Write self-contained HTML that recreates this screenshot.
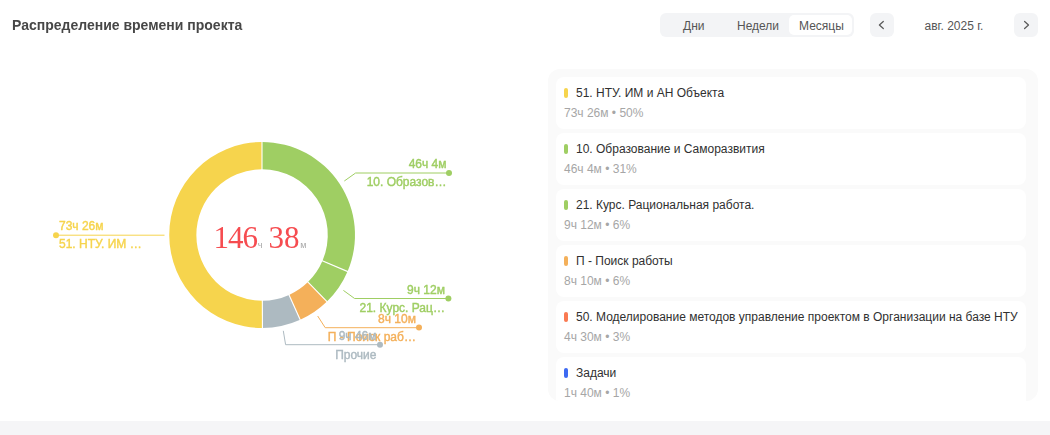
<!DOCTYPE html>
<html lang="ru">
<head>
<meta charset="utf-8">
<title>Распределение времени проекта</title>
<style>
*{box-sizing:border-box;margin:0;padding:0}
html,body{width:1050px;height:435px;overflow:hidden;background:#fff}
body{position:relative;font-family:"Liberation Sans",sans-serif;font-size:12px;color:#333}
.abs{position:absolute}
.title{will-change:transform;left:12px;top:15px;font-size:14px;font-weight:bold;line-height:20px;color:#474747;white-space:nowrap}
.seg{left:660px;top:13px;width:194px;height:24px;background:#f3f4f6;border-radius:6px}
.seg .on{position:absolute;left:129px;top:2px;width:63px;height:20px;background:#fff;border-radius:5px}
.seg span{position:absolute;top:1px;line-height:24px;font-size:12px;color:#555;white-space:nowrap}
.btn{top:13px;width:24px;height:24px;background:#f3f4f6;border-radius:6px}
.btn svg{position:absolute;left:0;top:0}
.date{left:894px;top:14px;width:120px;height:24px;line-height:24px;text-align:center;font-size:12px;color:#555}
.band{left:0;top:421px;width:1050px;height:14px;background:#f5f5f7}
.list{left:548px;top:69px;width:490px;height:332px;background:#fafafa;border-radius:12px;overflow:hidden}
.card{position:absolute;left:8px;width:470px;height:52px;background:#fff;border-radius:8px}
.card i{position:absolute;left:8px;top:11px;width:4px;height:10px;border-radius:2px}
.card b{position:absolute;left:20px;top:8px;font-weight:normal;line-height:16px;font-size:12px;color:#303030;white-space:nowrap}
.card s{position:absolute;left:8px;top:28px;text-decoration:none;line-height:16px;font-size:12px;color:#a6a6a6;white-space:nowrap}
.chart{left:0;top:0;will-change:transform}
.center{will-change:transform;left:159.5px;top:218px;width:200px;height:40px;text-align:center;white-space:nowrap;font-family:"Liberation Serif",serif;font-size:31px;line-height:40px;color:#f64c50}
.center u{letter-spacing:0;text-decoration:none;font-family:"Liberation Sans",sans-serif;font-size:9px;color:#a8a8a8}
</style>
</head>
<body>
<div class="abs title">Распределение времени проекта</div>

<div class="abs seg">
  <div class="on"></div>
  <span style="left:23px">Дни</span>
  <span style="left:77px">Недели</span>
  <span style="left:139px">Месяцы</span>
</div>
<div class="abs btn" style="left:870px"><svg width="24" height="24" viewBox="0 0 24 24"><path d="M13.3 8.5 L9.4 12 L13.3 15.5" fill="none" stroke="#5a5a5a" stroke-width="1.25" stroke-linecap="round" stroke-linejoin="round"/></svg></div>
<div class="abs date">авг. 2025 г.</div>
<div class="abs btn" style="left:1014px"><svg width="24" height="24" viewBox="0 0 24 24"><path d="M10.6 8.5 L14.5 12 L10.6 15.5" fill="none" stroke="#5a5a5a" stroke-width="1.25" stroke-linecap="round" stroke-linejoin="round"/></svg></div>

<svg class="abs chart" width="540" height="420" viewBox="0 0 540 420">
<path d="M262.00 142.00A93 93 0 0 1 347.54 271.49L322.52 260.81A65.8 65.8 0 0 0 262.00 169.20Z" fill="#9fce63"/>
<path d="M347.54 271.49A93 93 0 0 1 326.97 301.54L307.97 282.08A65.8 65.8 0 0 0 322.52 260.81Z" fill="#9fce63"/>
<path d="M326.97 301.54A93 93 0 0 1 300.22 319.78L289.04 294.99A65.8 65.8 0 0 0 307.97 282.08Z" fill="#f4b05a"/>
<path d="M300.22 319.78A93 93 0 0 1 262.46 328.00L262.33 300.80A65.8 65.8 0 0 0 289.04 294.99Z" fill="#adbac1"/>
<path d="M262.46 328.00A93 93 0 1 1 262.00 142.00L262.00 169.20A65.8 65.8 0 1 0 262.33 300.80Z" fill="#f6d44d"/>
<g stroke="#fff" stroke-width="1.1">
<line x1="262.00" y1="170.20" x2="262.00" y2="141.00"/>
<line x1="321.61" y1="260.42" x2="348.46" y2="271.88"/>
<line x1="307.27" y1="281.37" x2="327.67" y2="302.26"/>
<line x1="288.63" y1="294.08" x2="300.63" y2="320.70"/>
<line x1="262.32" y1="299.80" x2="262.47" y2="329.00"/>
</g>
<g fill="none" stroke-width="1">
<polyline points="344.3,181 355.6,173 449,173" stroke="#9fce63"/>
<polyline points="343.4,290.4 354.6,298.5 449,298.5" stroke="#9fce63"/>
<polyline points="317.7,316 325.2,327.7 419,327.7" stroke="#f4b05a"/>
<polyline points="283.3,330.8 285.6,344.7 380,344.7" stroke="#adbac1"/>
<polyline points="164.5,235.2 56,235.2" stroke="#f6d44d"/>
</g>
<circle cx="449" cy="173" r="3" fill="#9fce63"/>
<circle cx="448.4" cy="298.5" r="3" fill="#9fce63"/>
<circle cx="419" cy="327.5" r="3" fill="#f4b05a"/>
<circle cx="380" cy="344.7" r="3" fill="#adbac1"/>
<circle cx="56" cy="235.2" r="3" fill="#f6d44d"/>
<g font-family="Liberation Sans, sans-serif" font-size="12" stroke-width="0.4" paint-order="stroke">
<g fill="#9fce63" stroke="#9fce63" text-anchor="end">
<text x="446.5" y="168.2">46ч 4м</text>
<text x="446.5" y="186.3">10. Образов…</text>
<text x="444.9" y="293.7">9ч 12м</text>
<text x="444.9" y="311.9">21. Курс. Рац…</text>
</g>
<g fill="#f4b05a" stroke="#f4b05a" text-anchor="end">
<text x="415.9" y="322.9">8ч 10м</text>
<text x="415.9" y="341.3">П - Поиск раб…</text>
</g>
<g fill="#adbac1" stroke="#adbac1" text-anchor="end">
<text x="376.5" y="340">9ч 46м</text>
<text x="376.5" y="358.5">Прочие</text>
</g>
<g fill="#f6d44d" stroke="#f6d44d">
<text x="59" y="229.8">73ч 26м</text>
<text x="59" y="248">51. НТУ. ИМ …</text>
</g>
</g>
</svg>
<div class="abs center"><span style="letter-spacing:-1px">146</span><u style="margin-left:0.8px">ч</u><span style="margin-left:6.1px">38</span><u style="margin-left:0.8px">м</u></div>

<div class="abs list">
  <div class="card" style="top:8px"><i style="background:#f6d44d"></i><b>51. НТУ. ИМ и АН Объекта</b><s>73ч 26м • 50%</s></div>
  <div class="card" style="top:64px"><i style="background:#9fce63"></i><b>10. Образование и Саморазвития</b><s>46ч 4м • 31%</s></div>
  <div class="card" style="top:120px"><i style="background:#9fce63"></i><b>21. Курс. Рациональная работа.</b><s>9ч 12м • 6%</s></div>
  <div class="card" style="top:176px"><i style="background:#f4b05a"></i><b>П - Поиск работы</b><s>8ч 10м • 6%</s></div>
  <div class="card" style="top:232px"><i style="background:#fa7a52"></i><b>50. Моделирование методов управление проектом в Организации на базе НТУ</b><s>4ч 30м • 3%</s></div>
  <div class="card" style="top:288px"><i style="background:#3e6af2"></i><b>Задачи</b><s>1ч 40м • 1%</s></div>
</div>
<div class="abs band"></div>
</body>
</html>
